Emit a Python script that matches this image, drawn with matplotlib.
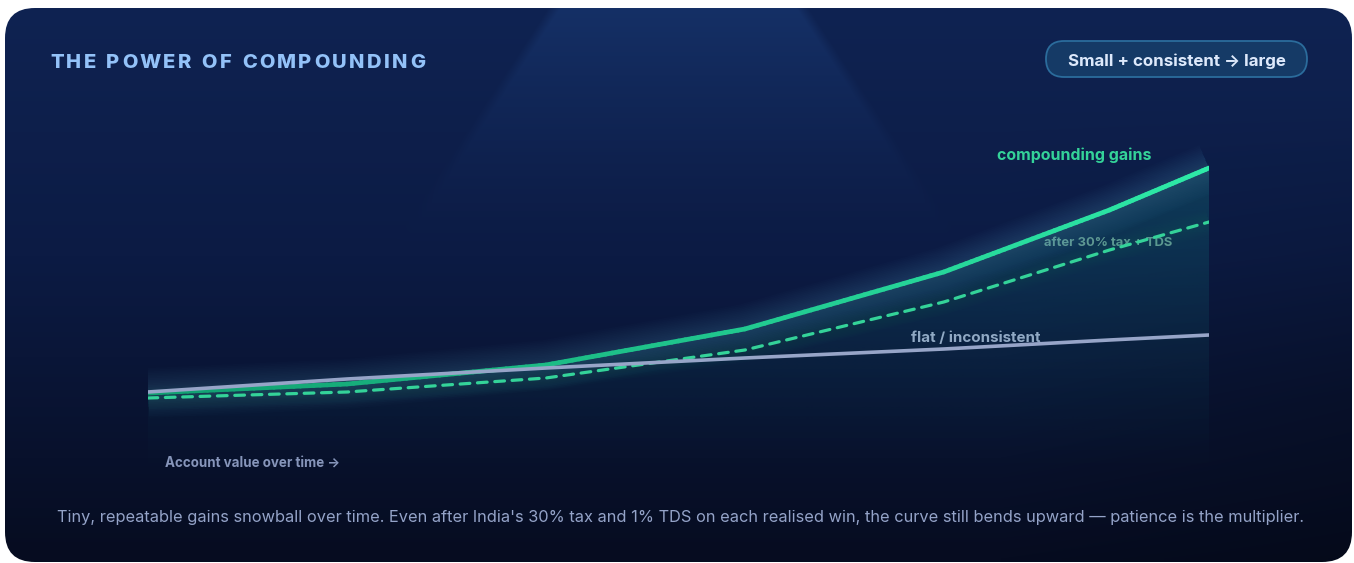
import numpy as np
import matplotlib
matplotlib.use("Agg")
import matplotlib.pyplot as plt
from matplotlib.patches import FancyBboxPatch
from matplotlib.collections import LineCollection
import matplotlib.colors as mcolors

plt.rcParams['lines.scale_dashes'] = False

# ---------------- data ----------------
time_steps = [0, 150, 300, 450, 600, 725, 800]
compounding = [87, 96, 115, 151, 208, 270, 312]
after_tax = [82, 88, 102, 130, 178, 230, 258]
flat = [88, 101, 112, 122, 131, 140, 145]

title_text = "THE POWER OF COMPOUNDING"
badge_text = "Small + consistent \u2192 large"
label_comp = "compounding gains"
label_tax = "after 30% tax + TDS"
label_flat = "flat / inconsistent"
label_axis = "Account value over time \u2192"
footer_text = ("Tiny, repeatable gains snowball over time. Even after India's 30% tax and 1% TDS "
               "on each realised win, the curve still bends upward \u2014 patience is the multiplier.")

FONT = ['Inter', 'DejaVu Sans']
W, H = 1354, 563

fig = plt.figure(figsize=(W / 100, H / 100), dpi=100)
fig.patch.set_facecolor('white')

# ---------------- background card ----------------
bg = fig.add_axes([0, 0, 1, 1])
bg.set_xlim(0, W)
bg.set_ylim(H, 0)
bg.axis('off')

yy, xx = np.mgrid[0:H, 0:W].astype(float)
top = np.array([15, 35, 82]) / 255
mid = np.array([12, 27, 68]) / 255
bot = np.array([6, 12, 32]) / 255
t = np.clip((yy - 8) / 550, 0, 1)[..., None]
img = np.where(t < 0.45, top + (mid - top) * (t / 0.45), mid + (bot - mid) * ((t - 0.45) / 0.55))
img *= (1 - 0.18 * np.clip((xx - 1000) / 354, 0, 1)[..., None] * np.clip((yy - 100) / 300, 0, 1)[..., None])
# spotlight trapezoid (straight edges, soft fade downward)
cx = 678
half = 130 + (yy - 8) * 0.66
edge = np.clip((half - np.abs(xx - cx)) / 12, 0, 1)
fade = np.clip(1 - (yy - 8) / 240, 0, 1) ** 1.4
spot = (edge * fade)[..., None] * (np.array([6, 13, 20]) / 255)
img = np.clip(img + spot, 0, 1)

im = bg.imshow(img, extent=(0, W, H, 0), zorder=0, interpolation='bilinear')
card = FancyBboxPatch((5 + 30, 8 + 30), 1347 - 60, 554 - 60,
                      boxstyle="round,pad=30", transform=bg.transData,
                      facecolor='none', edgecolor='none')
bg.add_patch(card)
im.set_clip_path(card)

# ---------------- main plot axes ----------------
ax = fig.add_axes([148 / W, (H - 480) / H, 1061 / W, 380 / H])
ax.set_xlim(0, 800)
ax.set_ylim(0, 380)
ax.axis('off')
ax.patch.set_alpha(0)

# gradient fill under compounding curve
poly = ax.fill_between(time_steps, compounding, 0, facecolor='none', edgecolor='none')
gy = np.linspace(0, 1, 300)[:, None]
grad = np.zeros((300, 2, 4))
grad[..., 0] = 18 / 255
grad[..., 1] = 110 / 255
grad[..., 2] = 120 / 255
grad[..., 3] = (0.42 * gy ** 1.2)[:, :1]
gim = ax.imshow(grad, extent=(0, 800, 0, 330), origin='lower', aspect='auto',
                zorder=1, interpolation='bilinear')
gim.set_clip_path(poly.get_paths()[0], transform=ax.transData)
ax.set_xlim(0, 800)
ax.set_ylim(0, 380)

# soft glow around lines (many faint layers for smoothness)
for lw in np.linspace(4, 36, 14):
    ax.plot(time_steps, compounding, color='#5ab8d8', lw=lw, alpha=0.016,
            solid_capstyle='butt', solid_joinstyle='round', zorder=2)
for lw in np.linspace(4, 18, 8):
    ax.plot(time_steps, after_tax, color='#34d399', lw=lw, alpha=0.012,
            solid_capstyle='butt', zorder=2)

# dashed after-tax line
ax.plot(time_steps, after_tax, color='#34d399', lw=2.3, dashes=(7.0, 5.5),
        dash_capstyle='round', zorder=3)

# solid compounding line with colour gradient along its length
xs, ys = [], []
for i in range(len(time_steps) - 1):
    s = np.linspace(0, 1, 30, endpoint=False)
    xs.extend(time_steps[i] + (time_steps[i + 1] - time_steps[i]) * s)
    ys.extend(compounding[i] + (compounding[i + 1] - compounding[i]) * s)
xs.append(time_steps[-1]); ys.append(compounding[-1])
pts = np.column_stack([xs, ys])
segs = np.stack([pts[:-1], pts[1:]], axis=1)
c0 = np.array(mcolors.to_rgb('#119f70'))
c1 = np.array(mcolors.to_rgb('#2eeaa8'))
fr = (pts[:-1, 0] / 800.0)[:, None]
cols = c0 + (c1 - c0) * fr
lc = LineCollection(segs, colors=cols, linewidths=3.4, capstyle='round', joinstyle='round', zorder=4)
ax.add_collection(lc)

# flat line on top
ax.plot(time_steps, flat, color='#97a5c8', lw=2.6, solid_capstyle='round', zorder=5)

# ---------------- texts ----------------
renderer = fig.canvas.get_renderer()


def fit_text(x, y, s, target_w, size0, ha='left', **kw):
    tt = bg.text(x, y + 1.5, s, fontsize=size0, ha=ha, va='center', family=FONT, **kw)
    w = tt.get_window_extent(renderer).width
    tt.set_fontsize(size0 * target_w / w)
    return tt


# title with letter spacing
tsize = 14.5
tx0, tx1, ty = 50, 425, 62.5
chars = list(title_text)
widths = []
for ch in chars:
    if ch == ' ':
        widths.append(tsize * 100 / 72 * 0.28)
    else:
        tmp = bg.text(0, 0, ch, fontsize=tsize, fontweight='bold', family=FONT)
        widths.append(tmp.get_window_extent(renderer).width)
        tmp.remove()
spacing = (tx1 - tx0 - sum(widths)) / (len(chars) - 1)
xpos = tx0
for ch, w in zip(chars, widths):
    if ch != ' ':
        bg.text(xpos, ty, ch, fontsize=tsize, fontweight='heavy', family=FONT,
                color='#93c2f8', va='center', ha='left')
    xpos += w + spacing

# badge
badge = FancyBboxPatch((1046 + 18, 41 + 18), 261 - 36, 36 - 36,
                       boxstyle="round,pad=18", transform=bg.transData,
                       facecolor='#153a66', edgecolor='#2b6c9c', lw=1.3, zorder=3)
bg.add_patch(badge)
fit_text(1068, 59.5, badge_text, 218, 12, color='#dde9fb', fontweight='bold', zorder=4)

fit_text(997, 154, label_comp, 155, 11, color='#34d399', fontweight='bold', zorder=6)
fit_text(1044, 241, label_tax, 128, 9.5, color='#7fa99b', fontweight='bold', zorder=6)
fit_text(911, 336, label_flat, 129, 10.5, color='#a8b4d2', fontweight='bold', zorder=6)
fit_text(165, 462, label_axis, 175, 9.5, color='#8896bb', fontweight='bold', zorder=6)
fit_text(57, 516, footer_text, 1245, 12, color='#94a3c8', zorder=6)

fig.savefig('out.png', dpi=100, facecolor='white')
